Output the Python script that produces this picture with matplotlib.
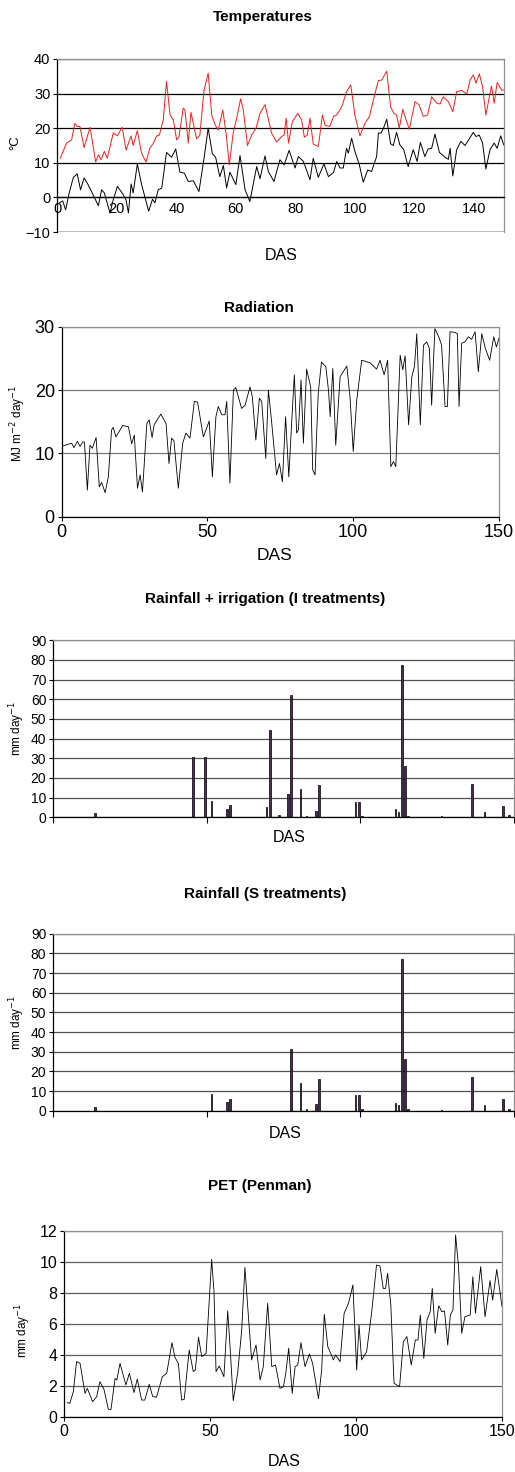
import matplotlib
matplotlib.use("Agg")
import matplotlib.pyplot as plt

plt.rcParams['font.family'] = ['Liberation Sans', 'DejaVu Sans']

# temperatures (at turning points)
tmax_das = [1, 3.1, 4.8, 5.9, 6.7, 7.6, 9, 11, 12.9, 13.8, 14.7, 15.8, 16.8, 18.8, 20.2, 21.8, 23.1, 24.8,
            25.5, 26.9, 28.3, 29.8, 31.1, 32.3, 33.4, 34.3, 35.6, 36.7, 37.9, 39, 40.1, 40.9, 42.3, 42.9,
            44, 44.9, 46.8, 47.9, 49.3, 50.7, 51.9, 53, 54.1, 55.6, 56.7, 57.8, 59.1, 60.5, 61.6, 62.5,
            63.9, 65.3, 66.8, 68.1, 69.8, 72, 73.7, 75.4, 76.2, 76.9, 77.7, 79, 80.8, 82.1, 83, 84, 84.9,
            86, 87.7, 89.1, 90, 91.6, 92.8, 93.9, 95.6, 97.2, 98.6, 100, 101.7, 103.4, 104.9, 106.2, 107.9,
            109, 110.7, 112, 113.1, 114, 114.9, 116.1, 116.8, 118.3, 120.2, 121.6, 123, 124.4, 125.8,
            127.5, 128.6, 129.7, 131.4, 132.9, 134.2, 135.9, 137.6, 138.7, 139.8, 140.7, 141.8, 142.9,
            144, 145.9, 146.8, 147.8, 149.3, 150]
tmax = [11.3, 15.7, 16.6, 21.4, 20.5, 20.5, 14.4, 20.3, 10.2, 12.3, 10.9, 13.3, 11.3, 18.6, 17.8, 20.3,
        13.7, 17.8, 15, 19.3, 12.8, 10.2, 14.2, 15.7, 17.8, 18, 22.4, 33.5, 23.8, 22.4, 16.6, 17.6, 25.8,
        25.3, 15.7, 24.6, 16.9, 18, 31, 35.9, 23.8, 21, 19.5, 25.3, 18.6, 9.4, 18.6, 23.8, 28.5, 25.3,
        15, 18, 20, 24.3, 26.8, 18.6, 16, 17.6, 18, 22.9, 15.7, 21.9, 24.3, 22.4, 17.4, 18, 22.9, 15.4,
        14.7, 23.8, 20.8, 20.5, 23.4, 23.8, 26.2, 30.6, 32.5, 23.8, 17.8, 21.4, 23.4, 28.2, 33.8, 33.9,
        36.5, 26.2, 24.3, 23.8, 20, 25.5, 23.4, 19.7, 27.7, 26.7, 23.4, 23.8, 29.1, 27.2, 27, 29.1, 27.7,
        24.8, 30.6, 30.9, 29.9, 33.9, 35.4, 33, 35.7, 32, 23.8, 32.2, 27.2, 33.2, 31, 31]

tmin_das = [0.7, 1.8, 2.8, 4, 5.4, 6.7, 7.8, 9, 10.1, 11.5, 13.8, 14.9, 15.8, 17.7, 18.8, 20.2, 22, 23.1,
            23.9, 24.8, 25.5, 26.9, 28.3, 30.7, 32, 32.8, 33.9, 35.1, 36.7, 38.4, 39.8, 41.2, 42.7, 44,
            45.7, 47.6, 49.3, 50.7, 52.1, 53.2, 54.6, 55.8, 56.9, 58, 60, 61.4, 63.1, 64.7, 67, 68.1, 69.8,
            70.9, 72.8, 74.8, 76.2, 77.9, 79.9, 81, 82.7, 84.9, 86, 87.7, 89.6, 91.1, 92.8, 93.9, 95, 96.1,
            97.2, 97.8, 98.9, 100, 101.5, 102.8, 104.3, 105.6, 107.3, 107.9, 108.8, 109.6, 110.7, 112,
            112.9, 114, 115.1, 116.4, 117.9, 119.6, 120.9, 122, 123.5, 124.6, 125.8, 126.9, 128.4, 130.3,
            131.4, 132, 132.9, 134.2, 135.6, 137, 139.8, 140.7, 141.8, 142.9, 144, 145.4, 146.8, 147.8,
            149, 150]
tmin = [-1.6, -1, -3.6, 1.3, 5.8, 6.8, 2.2, 5.6, 4.1, 1.7, -2.4, 2.2, 1.3, -4.5, -0.7, 3.2, 1, -0.7, -4.5,
        3.9, 1.3, 9.7, 3.8, -4, -0.5, -1.6, 2.2, 2.7, 13, 11.6, 14, 7.3, 7, 4.6, 4.8, 1.7, 11.3, 20, 12.6,
        11.6, 6, 9.2, 2.7, 7.3, 3.7, 12.1, 2.2, -1.2, 8.9, 5.4, 12, 7.5, 4.6, 10.9, 9.4, 13.6, 8.5, 11.8,
        10.4, 5.1, 11.3, 5.8, 9.7, 6, 7.2, 10.4, 8.5, 8.5, 14.2, 12.8, 17.1, 13.3, 9.4, 4.4, 7.9, 7.5,
        11.8, 18.6, 18.6, 20, 22.6, 15.5, 15, 18.8, 15.2, 13.8, 8.9, 13.8, 10.4, 15.9, 11.8, 14, 14.2,
        18.3, 13, 11.6, 11, 14.2, 6.2, 13.8, 16.2, 15, 18.8, 17.6, 18, 15.7, 8.2, 13.8, 15.7, 14.2, 17.8,
        15.2]

# radiation
rad_das = [0.6, 3.4, 4.2, 5.4, 6.3, 7.2, 7.8, 8.8, 9.7, 10.5, 11.8, 12.9, 13.7, 14.9, 16, 17.1, 17.7,
           18.6, 20.9, 22.9, 24, 24.9, 26, 26.9, 27.7, 29.2, 30, 31, 31.7, 34, 35.8, 36.8, 37.7, 38.5,
           40, 41.5, 42.6, 44, 45.5, 46.6, 48.6, 50.6, 51.7, 52, 52.9, 53.7, 54.9, 56, 56.6, 57.7, 58.9,
           59.7, 61.7, 62.9, 64.6, 65.4, 66.6, 67.8, 68.6, 70, 70.9, 72, 73.7, 74.7, 75.7, 76.8, 77.9,
           78.9, 79.8, 80.6, 81.2, 82.1, 82.9, 84, 85.4, 86.1, 86.9, 88, 89.1, 90.6, 91.5, 92.1, 93, 94,
           95.5, 97.8, 98.9, 100, 101.2, 102.9, 105.8, 108, 109.2, 110.6, 111.8, 112.9, 113.8, 114.6,
           116.1, 117, 117.8, 119, 120.1, 121, 121.8, 123, 124.1, 125.2, 126.1, 126.9, 128, 129.5, 130.3,
           131.5, 132.3, 133.2, 134.9, 135.7, 136.3, 137.2, 138.3, 139.5, 140.6, 141.8, 142.9, 144.1,
           145.3, 146.8, 148.2, 149.1, 150]
rad = [11.2, 11.6, 10.9, 11.9, 11.1, 11.8, 11.8, 4.2, 11.3, 10.8, 12.5, 4.7, 5.4, 3.8, 6.3, 13.7, 14.1,
       12.6, 14.4, 14.2, 11.5, 12.9, 4.5, 6.6, 3.9, 14.7, 15.3, 12.5, 14.5, 16.2, 14.7, 8.4, 12.4, 12, 4.5,
       11.6, 13.2, 12.4, 18.2, 18.1, 12.6, 15.1, 6.3, 8.9, 15.8, 17.4, 16.1, 16.1, 18.2, 5.3, 20, 20.4,
       17.1, 17.6, 20.5, 18.9, 12.1, 18.7, 18.2, 9.2, 20, 15, 6.6, 8.4, 5.5, 15.8, 6.3, 15, 22.4, 13.2,
       13.7, 21.6, 11.6, 23.3, 20.5, 7.4, 6.6, 19.5, 24.4, 23.7, 20, 15.8, 23.4, 11.3, 22.1, 23.8, 18.9,
       10.3, 18.4, 24.7, 24.3, 23.3, 24.7, 22.4, 24.7, 7.9, 8.7, 7.9, 25.5, 23.2, 25.4, 14.5, 22.1, 23.7,
       28.9, 14.5, 27.1, 27.6, 26.6, 17.6, 29.7, 28.2, 27.1, 17.4, 17.4, 29.2, 29.1, 28.9, 17.4, 27.4,
       27.6, 28.4, 28, 29.2, 22.9, 28.9, 26.6, 24.7, 28.4, 26.8, 28.2]

# daily rainfall, with irrigation (I) and without (S)
rain_das = [14, 46, 50, 52, 57, 58, 70, 71, 74, 77, 78, 81, 83, 86, 87, 99, 100, 101, 112, 113, 114,
            115, 116, 127, 137, 141, 147, 149]
rain_i = [2, 30.5, 30.5, 8.3, 4.2, 6.1, 5.4, 44.4, 1, 11.9, 62.2, 14.2, 0.7, 3.2, 16.3, 7.8, 7.8, 0.7,
          4.1, 2.9, 77.3, 26.1, 0.7, 0.5, 16.9, 2.7, 5.8, 1]
rain_s = [2, 0, 0, 8.3, 4.2, 6.1, 0, 0, 0, 0, 31.2, 14.2, 0.7, 3.2, 16.3, 7.8, 7.8, 0.7,
          4.1, 2.9, 77.3, 26.1, 0.7, 0.5, 16.9, 2.7, 5.8, 1]

# PET
pet_das = [1, 1.9, 3.1, 4.2, 5.4, 7.1, 7.9, 9.7, 11.1, 12.2, 13.6, 15.1, 16, 17.4, 18, 19.1, 21.1, 22.3,
           23.9, 25, 26.5, 27.6, 29.1, 30.3, 31.6, 33.6, 35.1, 36.9, 37.9, 39.1, 40.2, 41.1, 42.8, 44.2,
           44.9, 46, 47.1, 48.6, 50.5, 51.3, 52, 53.1, 54.7, 56, 56.8, 57.9, 59.4, 60.8, 61.9, 63.1, 64.2,
           65.7, 67.1, 68.2, 69.7, 71.1, 72.4, 73.9, 75.1, 75.9, 76.9, 78.1, 79.1, 80, 81.1, 82.5, 84,
           85.1, 87.1, 88.2, 89.1, 90.3, 91.4, 92.2, 93, 94.5, 95.9, 97.4, 98.9, 100.2, 101, 101.9, 103.6,
           105.3, 107, 108.2, 109.3, 110.1, 110.8, 111.9, 113, 113.9, 114.9, 116.2, 117.4, 118.9, 120.3,
           121.2, 122, 123.2, 124.3, 125.4, 126.1, 127.1, 128.3, 129.4, 130.3, 131.4, 132.3, 133.2, 134.1,
           135.1, 136.2, 137.3, 139.1, 140, 140.9, 142.7, 144.2, 145.9, 146.8, 148.2, 149.3, 150]
pet = [0.94, 0.9, 1.65, 3.58, 3.47, 1.54, 1.86, 1.0, 1.33, 2.29, 1.8, 0.51, 0.51, 2.5, 2.4, 3.47, 2.08,
       2.83, 1.59, 2.46, 1.11, 1.11, 2.12, 1.33, 1.29, 2.61, 2.83, 4.8, 3.86, 3.47, 1.11, 1.16, 4.33, 2.94,
       3.04, 5.14, 3.9, 4.11, 10.16, 8.08, 2.94, 3.3, 2.61, 6.84, 4.54, 1.07, 2.83, 5.61, 9.64, 6.47,
       3.69, 4.65, 2.4, 3.26, 7.33, 3.26, 3.36, 1.86, 1.97, 2.83, 4.44, 1.54, 3.26, 3.36, 4.8, 3.26,
       4.07, 3.47, 1.2, 3.04, 6.62, 4.54, 4.07, 3.69, 4.01, 3.58, 6.69, 7.33, 8.51, 3.04, 5.94, 3.69,
       4.22, 6.69, 9.79, 9.73, 8.29, 8.29, 9.26, 7.22, 2.19, 2.08, 1.97, 4.86, 5.19, 3.36, 4.97, 4.97,
       6.58, 3.79, 6.26, 6.79, 8.29, 5.4, 7.18, 6.79, 6.84, 4.65, 6.58, 6.9, 11.72, 9.69, 5.4, 6.47,
       6.58, 9.04, 6.69, 9.69, 6.47, 8.79, 7.54, 9.51, 8.08, 7.11]

W, H = 515, 1472
fig = plt.figure(figsize=(W / 100, H / 100), dpi=100)
title_fs = 11
lab_fs = 8.5


def box(l, t, r, b):
    return [l / W, 1 - b / H, (r - l) / W, (b - t) / H]


def frame(ax, grid_color, fs):
    for s in ['top', 'right']:
        ax.spines[s].set_color('#909090')
    ax.spines['left'].set_color('black')
    ax.spines['bottom'].set_color('black')
    for s in ax.spines.values():
        s.set_linewidth(0.9)
    ax.yaxis.grid(True, color=grid_color, linewidth=0.9)
    ax.set_axisbelow(True)
    ax.tick_params(labelsize=fs, length=3, width=0.8, pad=2)


def ftext(x, y, s, **kw):
    fig.text(x / W, 1 - y / H, s, ha='center', va='center', **kw)


# Temperatures
ax1 = fig.add_axes(box(57.3, 59, 503.7, 232))
ax1.plot(tmax_das, tmax, color='#e8231c', linewidth=0.7)
ax1.plot(tmin_das, tmin, color='black', linewidth=0.7)
ax1.set_xlim(0, 150)
ax1.set_ylim(-10, 40)
ax1.set_xticks(range(0, 141, 20))
ax1.set_yticks(range(-10, 41, 10))
frame(ax1, 'black', 10.5)
ax1.spines['bottom'].set_position(('data', 0))
ax1.axhline(-10, color='#303030', linewidth=1.0)
ax1.tick_params(axis='x', length=0, pad=3)
ftext(263, 17, 'Temperatures', fontsize=title_fs, fontweight='bold')
ftext(15, 143, '°C', fontsize=9.5, rotation=90)
ftext(281, 255, 'DAS', fontsize=11.5)

# Radiation
ax2 = fig.add_axes(box(61.7, 326.7, 499, 516.7))
ax2.plot(rad_das, rad, color='black', linewidth=0.6)
ax2.set_xlim(0, 150)
ax2.set_ylim(0, 30)
ax2.set_xticks([0, 50, 100, 150])
ax2.set_yticks([0, 10, 20, 30])
frame(ax2, '#7a7a7a', 13)
ftext(259, 308, 'Radiation', fontsize=title_fs, fontweight='bold')
ftext(18, 423, 'MJ m$^{-2}$ day$^{-1}$', fontsize=lab_fs, rotation=90)
ftext(274, 555, 'DAS', fontsize=12.5)

# Rainfall panels
rain_panels = [
    (rain_i, 'Rainfall + irrigation (I treatments)', 640.3, 817.3, 599, 838, 728, 289),
    (rain_s, 'Rainfall (S treatments)', 933.7, 1110.7, 894, 1133, 1022, 285),
]
for vals, title, top, bottom, ty, dy, ly, dx in rain_panels:
    ax = fig.add_axes(box(53.3, top, 513.7, bottom))
    ax.bar(rain_das, vals, width=0.55, color='#4a2b57', edgecolor='black', linewidth=0.5)
    ax.set_xlim(0.5, 150.5)
    ax.set_ylim(0, 90)
    ax.set_yticks(range(0, 91, 10))
    ax.set_xticks([0.5, 50.5, 100.5, 150.5])
    ax.set_xticklabels([])
    frame(ax, '#505050', 10)
    ax.tick_params(axis='x', length=4)
    ftext(265, ty, title, fontsize=title_fs, fontweight='bold')
    ftext(17, ly, 'mm day$^{-1}$', fontsize=lab_fs, rotation=90)
    ftext(dx, dy, 'DAS', fontsize=11.5)

# PET
ax5 = fig.add_axes(box(64.3, 1230.7, 502, 1417.3))
ax5.plot(pet_das, pet, color='black', linewidth=0.6)
ax5.set_xlim(0, 150)
ax5.set_ylim(0, 12)
ax5.set_xticks([0, 50, 100, 150])
ax5.set_yticks(range(0, 13, 2))
frame(ax5, '#606060', 11.5)
ftext(260, 1186, 'PET (Penman)', fontsize=title_fs, fontweight='bold')
ftext(23, 1330, 'mm day$^{-1}$', fontsize=lab_fs, rotation=90)
ftext(284, 1462, 'DAS', fontsize=11.5)

fig.savefig('out.png', dpi=100)
